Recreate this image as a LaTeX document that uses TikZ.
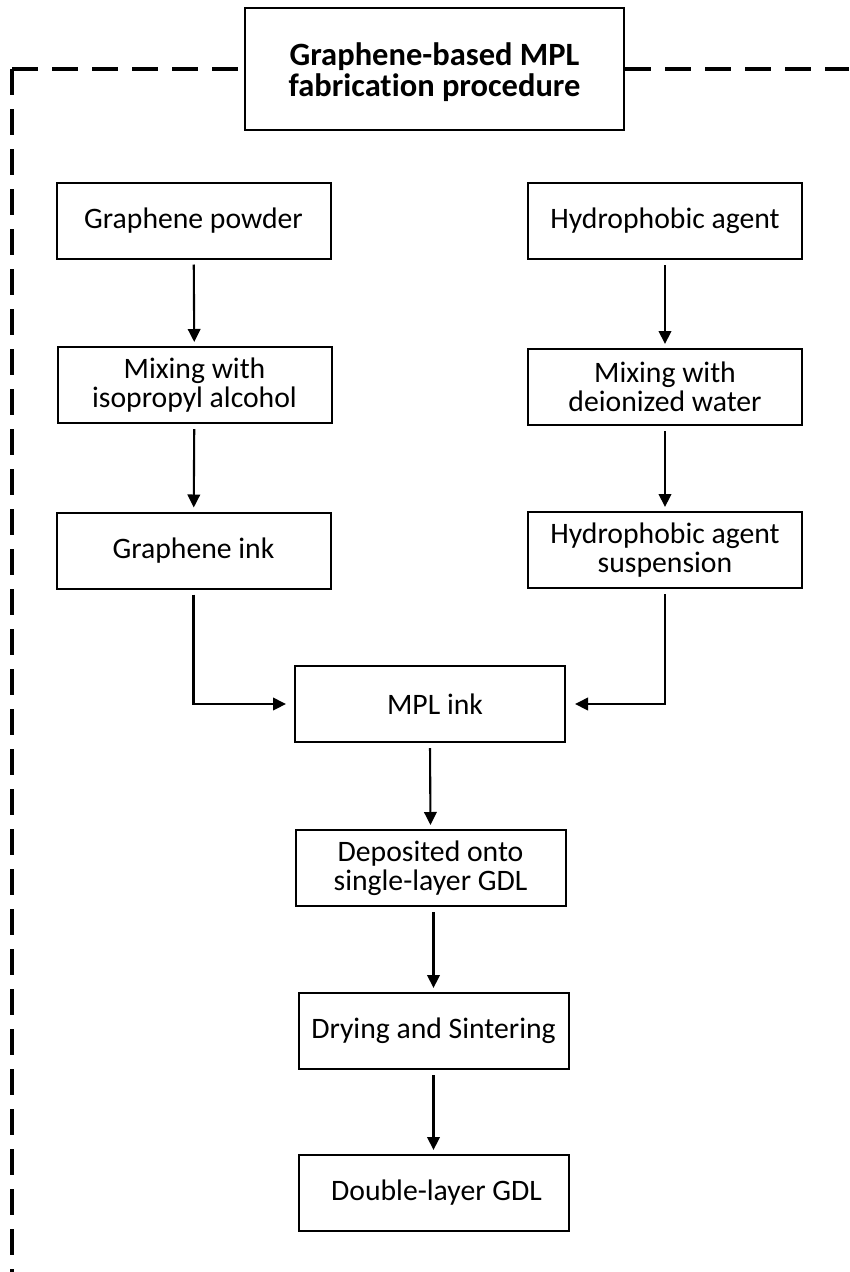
\documentclass[tikz,border=0pt]{standalone}
\usepackage{fontspec}
\setmainfont[Ligatures={NoCommon}]{Carlito}
\usetikzlibrary{arrows.meta}
\begin{document}
\begin{tikzpicture}[x=1pt,y=-1pt,
  box/.style={draw=black, fill=white, line width=2pt, minimum width=274pt, minimum height=76pt, inner sep=0pt, align=center, font=\fontsize{29.7}{29}\selectfont},
  midbox/.style={box, minimum width=270pt},
  titlebox/.style={draw=black, fill=white, line width=2pt, minimum width=379pt, minimum height=122pt, inner sep=0pt},
  titletext/.style={inner sep=0pt, align=center, font=\bfseries\fontsize{32.5}{31}\selectfont},
  arr/.style={line width=2.1pt, -{Triangle[length=13pt,width=12.5pt]}, shorten <=5pt, shorten >=4pt},
  frame/.style={line width=3.2pt, dash pattern=on 26pt off 14pt}]
\useasboundingbox (0,0) rectangle (849,1272);
\fill[white] (0,0) rectangle (849,1272);
\node[titlebox] (title) at (434.5,69) {};
\node[titletext] (titlelbl) at (434.5,72) {Graphene-based MPL\\fabrication procedure};
\node[box] (gp) at (193.5,220.5) {Graphene powder};
\node[box] (ha) at (665,221) {Hydrophobic agent};
\node[box] (mixl) at (194.5,385) {Mixing with\\isopropyl alcohol};
\node[box] (mixr) at (665,387) {Mixing with\\deionized water};
\node[box] (gink) at (193.5,550.5) {Graphene ink};
\node[box] (susp) at (665,550) {Hydrophobic agent\\suspension};
\node[midbox] (mpl) at (430,704) {\hspace*{10pt}MPL ink};
\node[midbox] (dep) at (430.5,868) {Deposited onto\\single-layer GDL};
\node[midbox] (dry) at (433.5,1031) {Drying and Sintering};
\node[midbox] (dbl) at (433.5,1193) {\hspace*{6pt}Double-layer GDL};
\coordinate (corner) at (12,69);
\coordinate (fbot) at (12,1272);
\coordinate (fright) at (849,69);
\draw[frame] (corner) -- (title.west);
\draw[frame] (corner) -- (fbot);
\draw[frame] (title.east) -- (fright);
\draw[arr] (gp) -- (mixl);
\draw[arr] (mixl) -- (gink);
\draw[arr] (ha) -- (mixr);
\draw[arr] (mixr) -- (susp);
\draw[arr, shorten >=8pt] (gink.south) |- (mpl.west);
\draw[arr, shorten >=9pt] (susp.south) |- (mpl.east);
\draw[arr] (mpl.south) -- (dep.north);
\draw[arr] (dep.south -| dry.north) -- (dry.north);
\draw[arr] (dry) -- (dbl);
\end{tikzpicture}
\end{document}
